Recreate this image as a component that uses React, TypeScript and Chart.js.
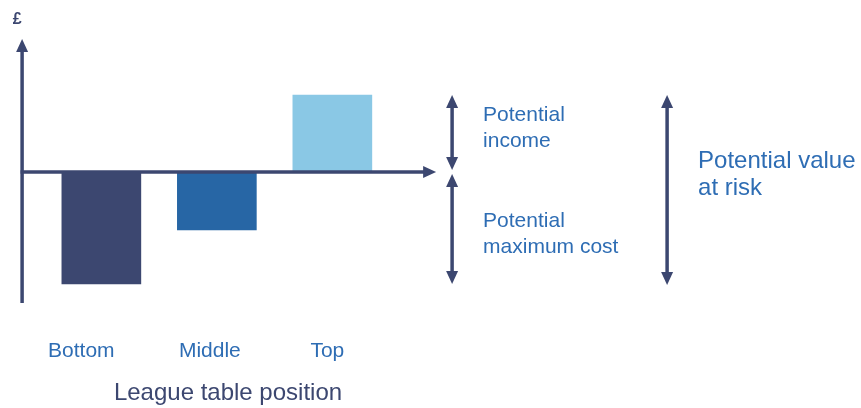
import React, { useEffect, useRef } from "react";
import { Chart, registerables } from "chart.js";

Chart.register(...registerables);

// League table positions and the £ outcome at each one
const positions = ["Bottom", "Middle", "Top"];
const outcomes = [-112, -58, 77];
const barColours = ["#3C4770", "#2766A5", "#8AC8E5"];

// Annotation texts on the right-hand side
const incomeLines = ["Potential", "income"];
const costLines = ["Potential", "maximum cost"];
const riskLines = ["Potential value", "at risk"];
const axisTitle = "League table position";
const currencyLabel = "£";

const NAVY = "#3C4770";
const TEXT_BLUE = "#2E6DB4";
const FONT = "'Liberation Sans', Arial, sans-serif";

function arrowHead(ctx: CanvasRenderingContext2D, x: number, y: number, dir: "up" | "down" | "right") {
  const len = 13;
  const half = 6;
  ctx.beginPath();
  if (dir === "up") {
    ctx.moveTo(x, y);
    ctx.lineTo(x - half, y + len);
    ctx.lineTo(x + half, y + len);
  } else if (dir === "down") {
    ctx.moveTo(x, y);
    ctx.lineTo(x - half, y - len);
    ctx.lineTo(x + half, y - len);
  } else {
    ctx.moveTo(x, y);
    ctx.lineTo(x - len, y - half);
    ctx.lineTo(x - len, y + half);
  }
  ctx.closePath();
  ctx.fill();
}

function doubleArrow(ctx: CanvasRenderingContext2D, x: number, top: number, bottom: number) {
  ctx.beginPath();
  ctx.moveTo(x, top + 8);
  ctx.lineTo(x, bottom - 8);
  ctx.stroke();
  arrowHead(ctx, x, top, "up");
  arrowHead(ctx, x, bottom, "down");
}

const decorations = {
  id: "decorations",
  afterDatasetsDraw(chart: any) {
    const { ctx, chartArea, scales } = chart;
    const xs = scales.x;
    const ys = scales.y;
    const zero = ys.getPixelForValue(0);
    const hi = ys.getPixelForValue(Math.max(...outcomes));
    const lo = ys.getPixelForValue(Math.min(...outcomes));
    const axisX = chartArea.left - 21.5;

    ctx.save();
    ctx.strokeStyle = NAVY;
    ctx.fillStyle = NAVY;
    ctx.lineWidth = 3.5;
    ctx.lineCap = "butt";

    // vertical £ axis
    ctx.beginPath();
    ctx.moveTo(axisX, chartArea.bottom);
    ctx.lineTo(axisX, chartArea.top + 8);
    ctx.stroke();
    arrowHead(ctx, axisX, chartArea.top - 2, "up");

    // horizontal axis through zero
    const xEnd = chartArea.right + 46;
    ctx.beginPath();
    ctx.moveTo(axisX - 1.5, zero);
    ctx.lineTo(xEnd - 8, zero);
    ctx.stroke();
    arrowHead(ctx, xEnd, zero, "right");

    // range arrows
    ctx.lineWidth = 3.5;
    const a1 = chartArea.right + 62;
    doubleArrow(ctx, a1, hi, zero - 2);
    doubleArrow(ctx, a1, zero + 2, lo);
    const a2 = chartArea.right + 277;
    doubleArrow(ctx, a2, hi, lo + 1);

    // £ label
    ctx.font = `bold 16px ${FONT}`;
    ctx.textAlign = "center";
    ctx.textBaseline = "alphabetic";
    ctx.fillText(currencyLabel, axisX - 5, 24);

    // category labels
    const shifts = [-20, -7, -5];
    ctx.fillStyle = TEXT_BLUE;
    ctx.font = `21px ${FONT}`;
    positions.forEach((p, i) => {
      ctx.fillText(p, xs.getPixelForValue(i) + shifts[i], 357);
    });

    // axis title
    ctx.fillStyle = NAVY;
    ctx.font = `24px ${FONT}`;
    ctx.fillText(axisTitle, 228, 400);

    // right-hand annotations
    ctx.fillStyle = TEXT_BLUE;
    ctx.textAlign = "left";
    ctx.font = `21px ${FONT}`;
    const tx = chartArea.right + 93;
    incomeLines.forEach((t, i) => ctx.fillText(t, tx, zero - 51 + i * 26));
    costLines.forEach((t, i) => ctx.fillText(t, tx, zero + 55 + i * 26));
    ctx.font = `24px ${FONT}`;
    const rx = chartArea.right + 308;
    riskLines.forEach((t, i) => ctx.fillText(t, rx, zero - 4 + i * 27));

    ctx.restore();
  },
};

export default function App() {
  const canvasRef = useRef<HTMLCanvasElement | null>(null);

  useEffect(() => {
    if (!canvasRef.current) return;
    const chart = new Chart(canvasRef.current, {
      type: "bar",
      data: {
        labels: positions,
        datasets: [
          {
            data: outcomes,
            backgroundColor: barColours,
            borderWidth: 0,
            barThickness: 79,
          },
        ],
      },
      options: {
        animation: false,
        responsive: false,
        devicePixelRatio: 1,
        layout: { padding: { left: 43.6, right: 470.9, top: 41, bottom: 105 } },
        plugins: { legend: { display: false }, tooltip: { enabled: false } },
        scales: {
          x: { display: false, offset: true, grid: { display: false } },
          y: { display: false, min: -131, max: 131, grid: { display: false } },
        },
      },
      plugins: [decorations],
    });
    return () => chart.destroy();
  }, []);

  return (
    <div style={{ position: "absolute", left: 0, top: 0, width: 861, height: 408, background: "#fff" }}>
      <canvas ref={canvasRef} width={861} height={408} />
    </div>
  );
}
